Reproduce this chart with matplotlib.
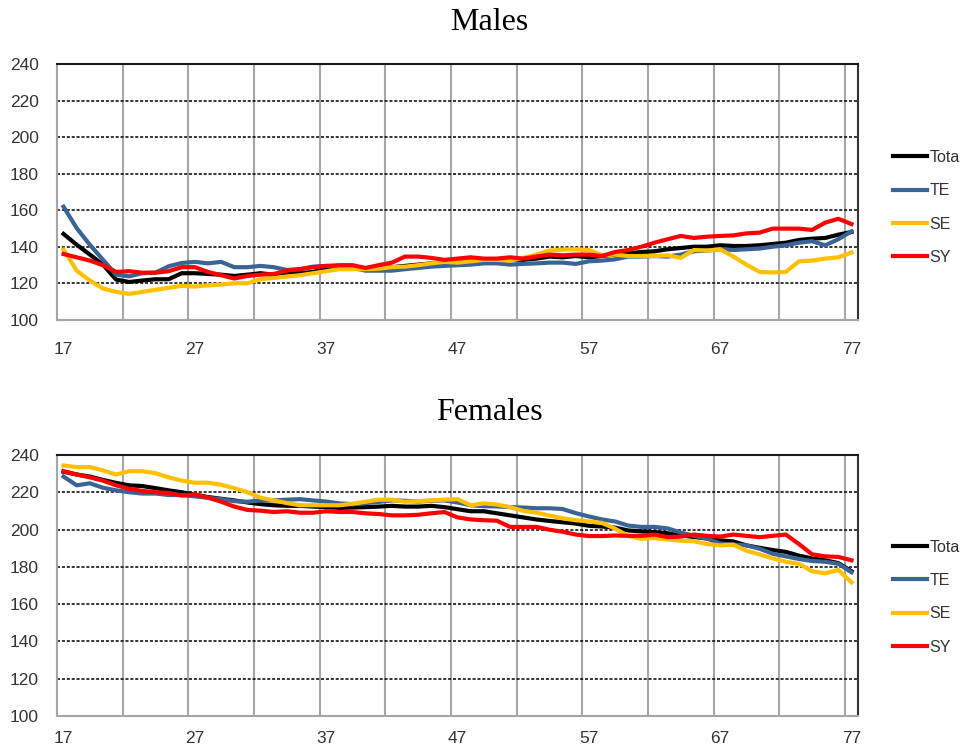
import numpy as np
import matplotlib.pyplot as plt

ages = list(range(17, 78))
series_names = ['Tota', 'TE', 'SE', 'SY']
series_colors = ['#000000', '#3b6496', '#ffc000', '#ff0000']

# Males
male_total = [147.1, 141.2, 135.8, 130.3, 122.1, 120.8, 121.6, 122.3, 122.3, 125.6,
              125.6, 125.2, 124.8, 124.1, 124.8, 125.6, 124.8, 125.9, 125.6, 126.3,
              128.1, 128.9, 129.2, 128.1, 128.5, 128.9, 129.6, 130.3, 131.0, 131.4,
              131.4, 132.1, 132.5, 132.9, 133.2, 132.9, 133.6, 134.7, 134.3, 135.0,
              134.3, 135.0, 135.8, 136.5, 137.2, 137.6, 138.7, 139.4, 140.1, 140.1,
              140.9, 140.5, 140.5, 140.9, 141.6, 142.3, 143.8, 144.5, 144.9, 146.7,
              148.2]
male_te = [162.0, 150.3, 141.2, 133.0, 124.8, 123.9, 125.6, 125.9, 129.4, 131.2,
           131.8, 131.0, 131.8, 128.9, 128.9, 129.6, 128.9, 127.4, 127.8, 129.2,
           129.6, 129.2, 128.5, 127.0, 127.0, 127.0, 127.8, 128.5, 129.2, 129.6,
           130.0, 130.3, 131.0, 131.0, 130.3, 130.7, 131.0, 131.4, 131.4, 130.7,
           132.1, 132.5, 133.2, 134.7, 134.7, 135.0, 134.7, 135.8, 137.6, 138.0,
           138.7, 138.3, 138.7, 139.1, 140.1, 140.9, 142.3, 143.1, 140.9, 144.2,
           148.5]
male_se = [138.5, 127.0, 121.6, 117.2, 115.4, 114.3, 115.4, 116.5, 117.6, 118.7,
           118.3, 119.0, 119.4, 120.1, 120.1, 122.3, 123.0, 123.8, 124.5, 125.6,
           126.7, 127.8, 127.8, 127.8, 128.1, 128.9, 129.2, 130.0, 131.0, 131.8,
           131.4, 132.1, 132.9, 132.9, 132.5, 134.0, 135.8, 138.0, 138.5, 138.7,
           138.3, 135.4, 135.8, 135.0, 135.0, 135.0, 135.4, 134.0, 138.3, 138.0,
           138.7, 134.7, 130.3, 126.3, 126.0, 126.3, 132.1, 132.5, 133.6, 134.3,
           136.9]
male_sy = [136.1, 134.3, 132.5, 130.0, 126.3, 126.7, 125.9, 125.9, 126.7, 128.9,
           128.9, 126.3, 124.5, 122.7, 124.1, 124.8, 125.2, 127.0, 127.8, 128.9,
           129.6, 130.0, 130.0, 128.5, 130.0, 131.4, 134.7, 134.7, 134.0, 132.9,
           133.6, 134.3, 133.6, 133.6, 134.3, 133.6, 134.7, 135.8, 135.4, 135.8,
           135.8, 135.0, 137.2, 138.3, 140.1, 142.3, 144.2, 146.0, 144.9, 145.6,
           146.0, 146.3, 147.4, 147.8, 150.0, 150.0, 150.0, 149.3, 153.3, 155.4,
           152.5]

# Females
female_total = [231.0, 229.5, 228.4, 226.6, 225.0, 223.7, 223.3, 222.2, 221.0, 220.0,
                218.7, 217.4, 216.5, 215.6, 214.5, 213.6, 213.0, 212.7, 212.7, 212.3,
                212.0, 211.6, 211.8, 212.0, 212.3, 212.7, 212.3, 212.3, 212.7, 212.0,
                210.9, 209.8, 209.8, 208.7, 207.6, 206.5, 205.4, 204.6, 203.9, 203.2,
                202.0, 201.6, 201.0, 199.5, 199.0, 198.6, 198.0, 196.8, 196.0, 195.2,
                194.2, 193.6, 191.5, 190.2, 189.0, 188.0, 186.0, 184.5, 183.5, 182.0,
                177.6]
female_te = [228.4, 223.7, 224.8, 222.4, 221.0, 220.0, 219.3, 219.3, 218.5, 218.5,
             217.8, 217.0, 216.3, 215.2, 214.9, 215.6, 215.6, 216.0, 216.3, 215.6,
             215.0, 214.0, 213.6, 214.2, 214.8, 215.6, 215.4, 215.0, 215.4, 215.6,
             214.5, 213.0, 212.5, 212.4, 212.0, 211.8, 211.4, 211.4, 211.0, 208.8,
             207.0, 205.4, 204.3, 202.1, 201.4, 201.4, 200.6, 198.4, 196.6, 195.1,
             192.5, 191.9, 191.5, 189.7, 187.0, 185.6, 184.2, 183.1, 182.7, 181.6,
             177.1]
female_se = [234.3, 233.5, 233.5, 231.7, 229.5, 231.3, 231.3, 230.2, 228.0, 226.2,
             225.1, 225.1, 224.0, 222.2, 220.0, 217.1, 215.6, 214.2, 213.0, 213.0,
             213.0, 213.0, 213.8, 214.9, 216.0, 216.0, 214.9, 215.2, 215.6, 216.0,
             216.3, 213.0, 214.0, 213.4, 212.0, 210.0, 209.0, 207.5, 206.0, 205.0,
             204.3, 203.5, 200.5, 196.5, 195.0, 195.4, 194.6, 194.0, 193.7, 192.2,
             191.5, 191.9, 188.6, 186.7, 184.5, 182.7, 181.6, 177.6, 176.5, 178.3,
             171.7]
female_sy = [231.3, 229.5, 228.0, 226.2, 223.7, 221.8, 220.7, 220.0, 219.6, 218.2,
             218.9, 217.1, 214.9, 212.3, 210.5, 210.1, 209.4, 209.8, 209.0, 209.0,
             209.8, 209.4, 209.4, 208.7, 208.3, 207.6, 207.6, 207.9, 208.7, 209.4,
             206.5, 205.4, 205.0, 204.7, 201.4, 201.4, 201.4, 199.9, 198.8, 197.3,
             196.5, 196.5, 196.8, 196.6, 196.6, 197.3, 195.9, 196.2, 197.3, 196.6,
             196.2, 197.3, 196.6, 195.9, 196.6, 197.3, 192.2, 186.7, 185.6, 185.3,
             183.5]

y_ticks = [100, 120, 140, 160, 180, 200, 220, 240]
x_labels = [17, 27, 37, 47, 57, 67, 77]

fig = plt.figure(figsize=(9.64, 7.48), dpi=100)
ax_m = fig.add_axes([0.0591, 0.5722, 0.831, 0.342])
ax_f = fig.add_axes([0.0591, 0.0428, 0.831, 0.349])


def draw_panel(ax, data, title, title_y, legend_y, xpad):
    for vals, name, col in zip(data, series_names, series_colors):
        ax.plot(ages, vals, color=col, lw=3, label=name, solid_joinstyle='round')

    ax.set_xlim(16.5, 77.5)
    ax.set_ylim(100, 240)
    ax.set_yticks(y_ticks)
    ax.set_xticks(x_labels)
    ax.set_xticks(np.arange(21.5, 77, 5), minor=True)
    ax.tick_params(which='both', length=0)
    ax.tick_params(axis='y', pad=13, labelsize=12.5, labelcolor='#333333')
    ax.tick_params(axis='x', pad=xpad, labelsize=12.5, labelcolor='#333333')
    for lab in ax.get_xticklabels() + ax.get_yticklabels():
        lab.set_family('Liberation Sans')

    # excel style grid: dotted horizontals, grey verticals between categories
    ax.grid(axis='y', which='major', color='black', ls=(0, (2, 1.2)), lw=1.1)
    ax.grid(axis='x', which='minor', color='#a6a6a6', ls='-', lw=1.5)
    ax.set_axisbelow(True)

    ax.spines['top'].set_color('#1a1a1a')
    ax.spines['right'].set_color('#333333')
    ax.spines['left'].set_color('#a6a6a6')
    ax.spines['bottom'].set_color('#a6a6a6')
    for sp in ax.spines.values():
        sp.set_linewidth(1.5)

    leg = ax.legend(loc='center left', bbox_to_anchor=(1.036, legend_y), frameon=False,
                    handlelength=2.1, handletextpad=0.15, labelspacing=1.15,
                    borderaxespad=0, prop={'family': 'Liberation Sans', 'size': 11.5})
    for t in leg.get_texts():
        t.set_color('#333333')

    fig.text(0.508, title_y, title, ha='center', va='center',
             family='Liberation Serif', fontsize=23)


draw_panel(ax_m, [male_total, male_te, male_se, male_sy], 'Males', 1 - 22 / 748, 0.44, 16)
draw_panel(ax_f, [female_total, female_te, female_se, female_sy], 'Females', 1 - 412 / 748, 0.455, 11)

fig.savefig('out.png', dpi=100)
plt.close(fig)
